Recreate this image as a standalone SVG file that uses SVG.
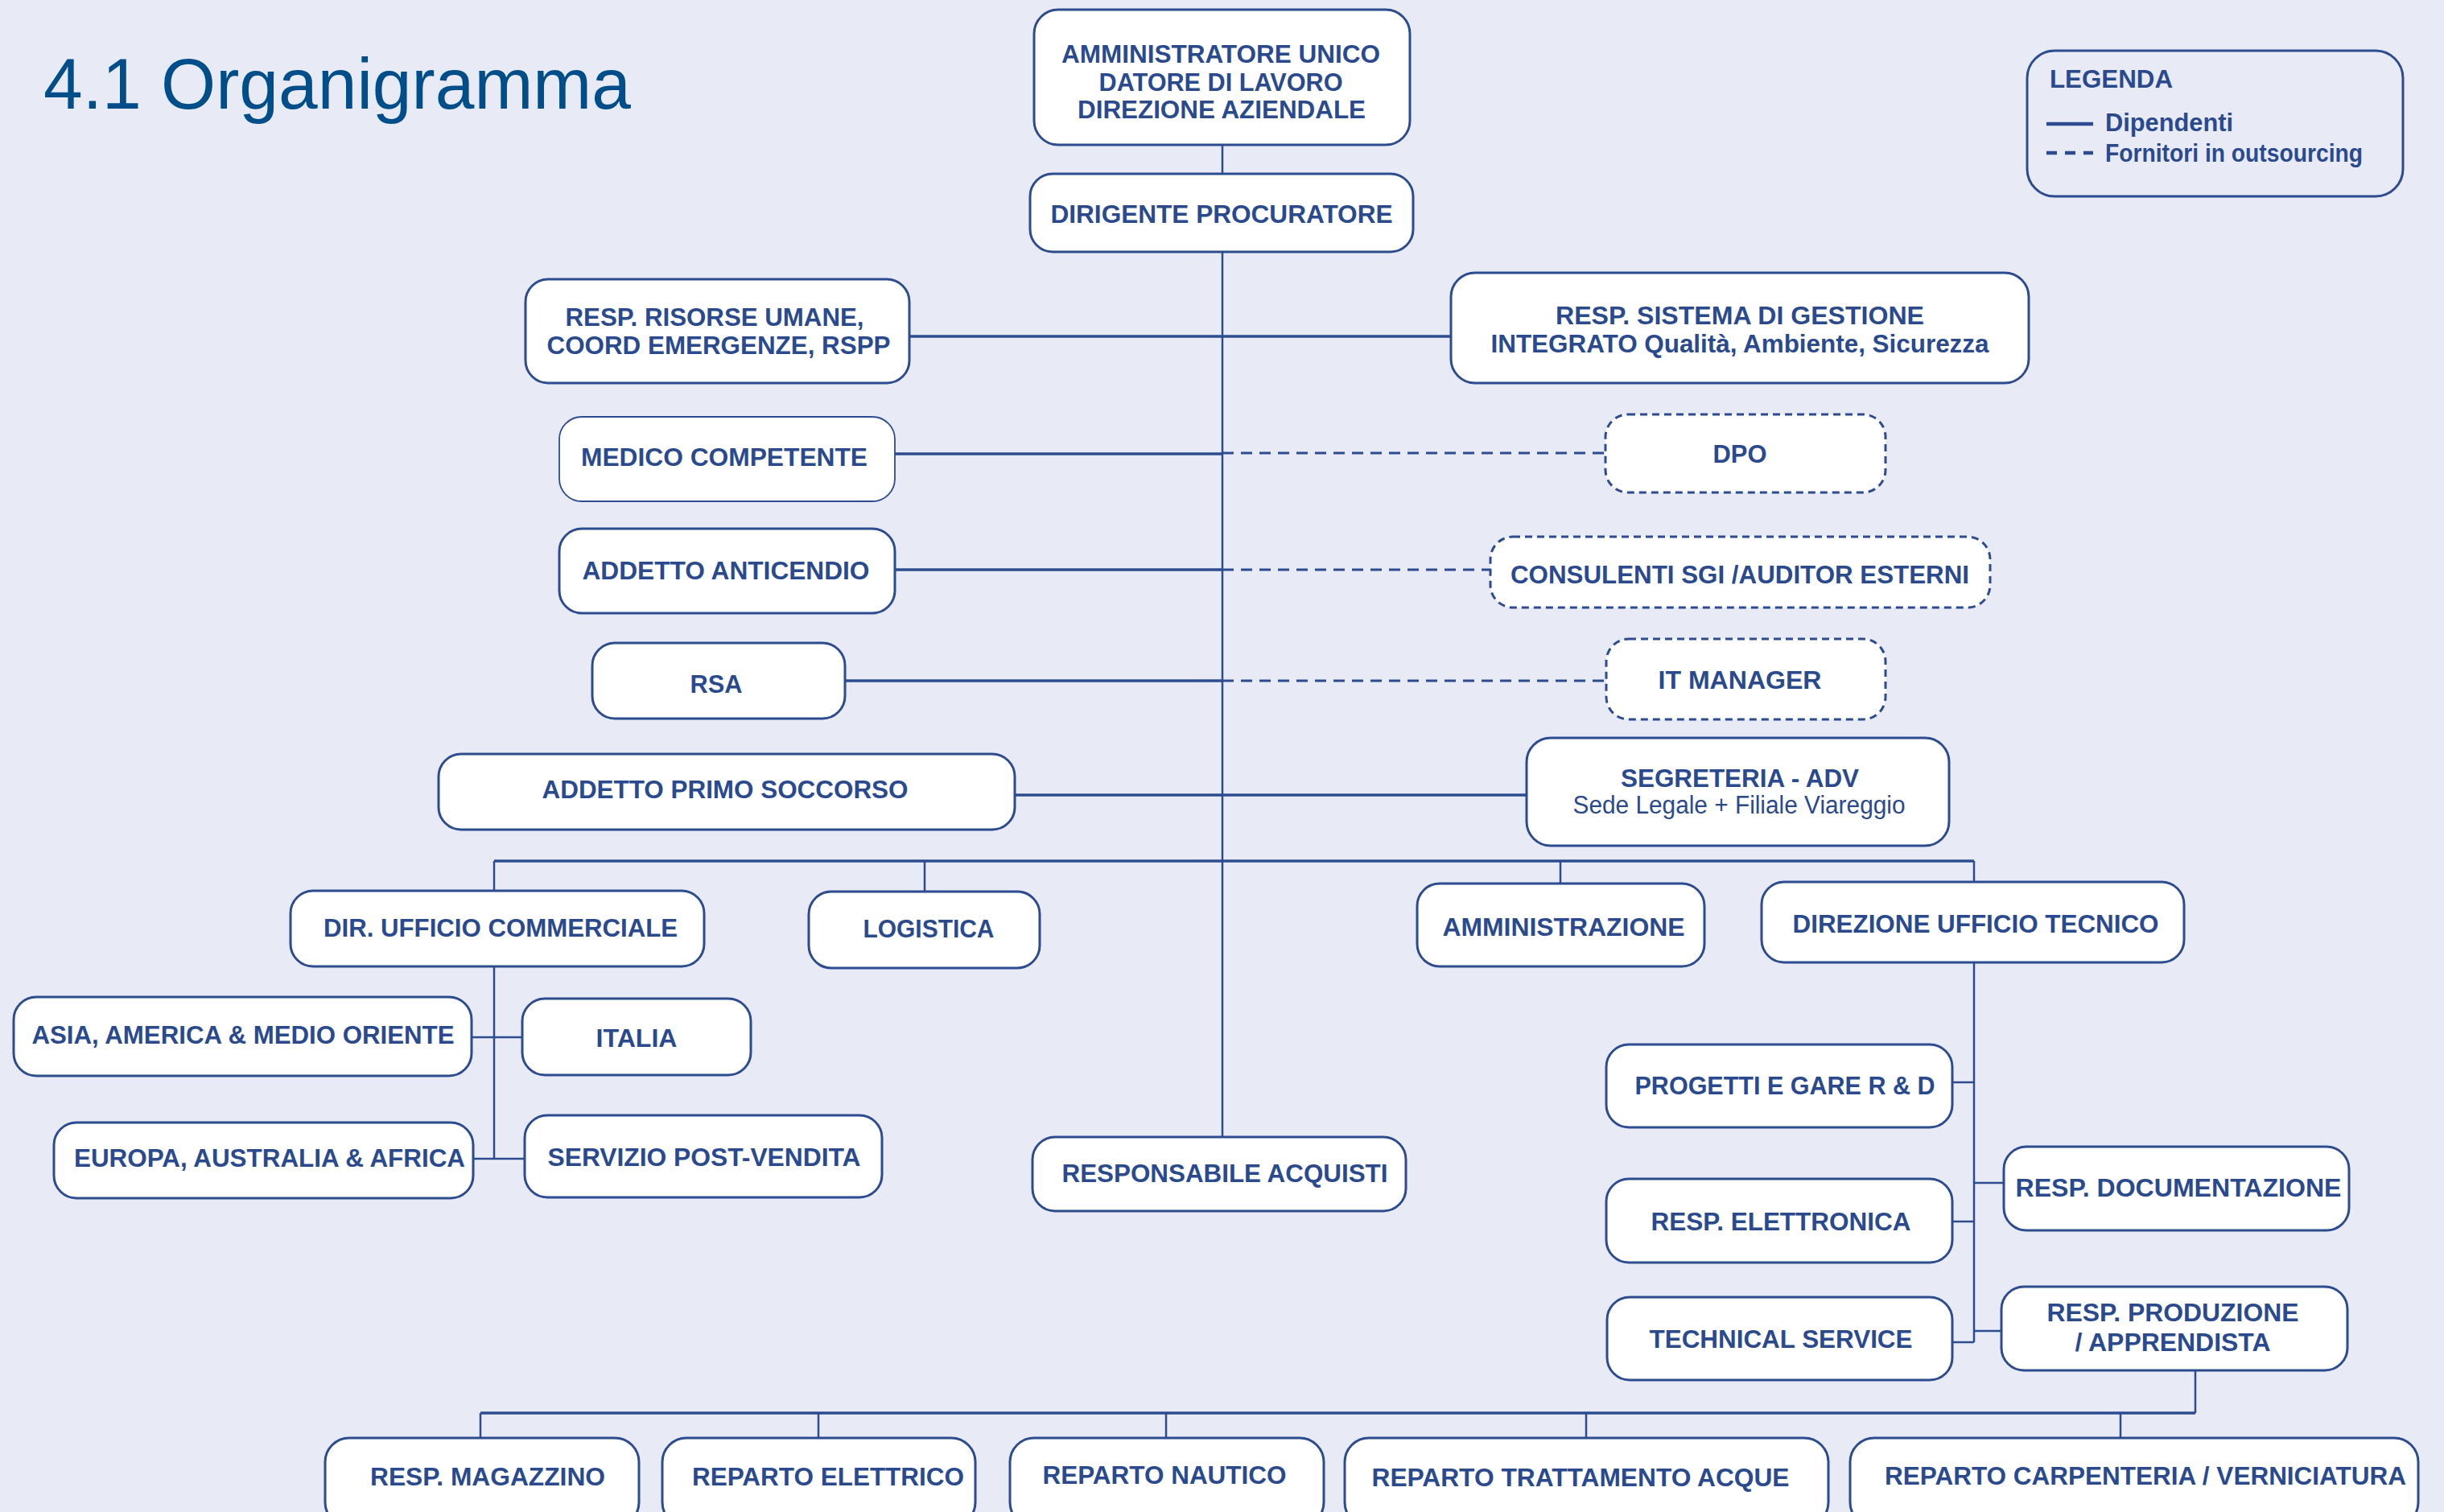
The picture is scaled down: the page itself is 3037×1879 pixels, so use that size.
<svg xmlns="http://www.w3.org/2000/svg" width="3037" height="1879" viewBox="0 0 3037 1879">
<style>
.bg{fill:#E8EBF6}
.n{fill:#FFFFFF;stroke:#2D4C8F;stroke-width:3}
.thin{stroke-width:1.8}
.d{fill:#FFFFFF;stroke:#2D4C8F;stroke-width:3;stroke-dasharray:9 6}
.t{font-family:"Liberation Sans Narrow","Liberation Sans",Arial,sans-serif;font-weight:bold;font-size:31px;fill:#2A4A8D;text-anchor:middle}
.r{font-weight:normal}
.l{text-anchor:start}
.c{stroke:#2D4C8F;stroke-width:2.5;fill:none}
.h{stroke-width:3.5}
.cd{stroke:#2D4C8F;stroke-width:3;fill:none;stroke-dasharray:14 9}
.title{font-family:"Liberation Sans Narrow","Liberation Sans",Arial,sans-serif;font-size:89px;fill:#004E89}
</style>
<rect class="bg" x="0" y="0" width="3037" height="1879"/>
<text class="title" x="54" y="135" textLength="730" lengthAdjust="spacingAndGlyphs">4.1 Organigramma</text>

<g id="connectors">
<path class="c" d="M1519 180 V1413"/>
<path class="c h" d="M1130 418 H1803"/>
<path class="c h" d="M1112 564 H1519"/>
<path class="cd" d="M1519 563 H1995"/>
<path class="c h" d="M1112 708 H1519"/>
<path class="cd" d="M1519 708 H1852"/>
<path class="c h" d="M1050 846 H1519"/>
<path class="cd" d="M1519 846 H1996"/>
<path class="c h" d="M1261 988 H1897"/>
<path class="c h" d="M614 1070 H2453"/>
<path class="c" d="M614 1070 V1107 M1149 1070 V1108 M1939 1070 V1098 M2453 1070 V1096"/>
<path class="c" d="M614 1201 V1440 M586 1289 H649 M588 1440 H652"/>
<path class="c" d="M2453 1196 V1668 M2426 1345 H2453 M2453 1470 H2490 M2426 1518 H2453 M2453 1654 H2487 M2426 1668 H2453"/>
<path class="c" d="M2728 1703 V1756"/>
<path class="c h" d="M597 1756 H2728"/>
<path class="c" d="M597 1756 V1787 M1017 1756 V1787 M1449 1756 V1787 M1971 1756 V1787 M2635 1756 V1787"/>
</g>

<g id="legenda">
<rect x="2519" y="63" width="467" height="181" rx="34" fill="none" stroke="#2D4C8F" stroke-width="3"/>
<text class="t l" x="2547" y="109" textLength="153" lengthAdjust="spacingAndGlyphs">LEGENDA</text>
<path d="M2543 154 H2601" stroke="#2D4C8F" stroke-width="4.5"/>
<text class="t l" x="2616" y="163" textLength="159" lengthAdjust="spacingAndGlyphs">Dipendenti</text>
<path d="M2543 190 H2601" stroke="#2D4C8F" stroke-width="4.5" stroke-dasharray="13 10"/>
<text class="t l" x="2616" y="201" textLength="320" lengthAdjust="spacingAndGlyphs">Fornitori in outsourcing</text>
</g>

<g id="amministratore">
<rect class="n" x="1285" y="12" width="467" height="168" rx="30"/>
<text class="t" x="1517" y="78" textLength="396" lengthAdjust="spacingAndGlyphs">AMMINISTRATORE UNICO</text>
<text class="t" x="1517" y="113" textLength="303" lengthAdjust="spacingAndGlyphs">DATORE DI LAVORO</text>
<text class="t" x="1518" y="147" textLength="358" lengthAdjust="spacingAndGlyphs">DIREZIONE AZIENDALE</text>
</g>
<g id="dirigente">
<rect class="n" x="1280" y="216" width="476" height="97" rx="28"/>
<text class="t" x="1518" y="277" textLength="425" lengthAdjust="spacingAndGlyphs">DIRIGENTE PROCURATORE</text>
</g>
<g id="risorse-umane">
<rect class="n" x="653" y="347" width="477" height="129" rx="28"/>
<text class="t" x="888" y="405" textLength="371" lengthAdjust="spacingAndGlyphs">RESP. RISORSE UMANE,</text>
<text class="t" x="893" y="440" textLength="427" lengthAdjust="spacingAndGlyphs">COORD EMERGENZE, RSPP</text>
</g>
<g id="sistema-gestione">
<rect class="n" x="1803" y="339" width="718" height="137" rx="30"/>
<text class="t" x="2162" y="403" textLength="458" lengthAdjust="spacingAndGlyphs">RESP. SISTEMA DI GESTIONE</text>
<text class="t" x="2162" y="438" textLength="619" lengthAdjust="spacingAndGlyphs">INTEGRATO Qualità, Ambiente, Sicurezza</text>
</g>
<g id="medico">
<rect class="n thin" x="695" y="518" width="417" height="105" rx="28"/>
<text class="t" x="900" y="579" textLength="356" lengthAdjust="spacingAndGlyphs">MEDICO COMPETENTE</text>
</g>
<g id="dpo">
<rect class="d" x="1995" y="515" width="348" height="97" rx="28"/>
<text class="t" x="2162" y="575" textLength="67" lengthAdjust="spacingAndGlyphs">DPO</text>
</g>
<g id="anticendio">
<rect class="n" x="695" y="657" width="417" height="105" rx="28"/>
<text class="t" x="902" y="720" textLength="357" lengthAdjust="spacingAndGlyphs">ADDETTO ANTICENDIO</text>
</g>
<g id="consulenti">
<rect class="d" x="1852" y="667" width="621" height="88" rx="28"/>
<text class="t" x="2162" y="725" textLength="570" lengthAdjust="spacingAndGlyphs">CONSULENTI SGI /AUDITOR ESTERNI</text>
</g>
<g id="rsa">
<rect class="n" x="736" y="799" width="314" height="94" rx="28"/>
<text class="t" x="890" y="861" textLength="65" lengthAdjust="spacingAndGlyphs">RSA</text>
</g>
<g id="it-manager">
<rect class="d" x="1996" y="794" width="347" height="100" rx="28"/>
<text class="t" x="2162" y="856" textLength="203" lengthAdjust="spacingAndGlyphs">IT MANAGER</text>
</g>
<g id="primo-soccorso">
<rect class="n" x="545" y="937" width="716" height="94" rx="28"/>
<text class="t" x="901" y="992" textLength="455" lengthAdjust="spacingAndGlyphs">ADDETTO PRIMO SOCCORSO</text>
</g>
<g id="segreteria">
<rect class="n" x="1897" y="917" width="525" height="134" rx="30"/>
<text class="t" x="2162" y="978" textLength="296" lengthAdjust="spacingAndGlyphs">SEGRETERIA - ADV</text>
<text class="t r" x="2161" y="1011" textLength="413" lengthAdjust="spacingAndGlyphs">Sede Legale + Filiale Viareggio</text>
</g>
<g id="commerciale">
<rect class="n" x="361" y="1107" width="514" height="94" rx="28"/>
<text class="t" x="622" y="1164" textLength="440" lengthAdjust="spacingAndGlyphs">DIR. UFFICIO COMMERCIALE</text>
</g>
<g id="logistica">
<rect class="n" x="1005" y="1108" width="287" height="95" rx="28"/>
<text class="t" x="1154" y="1165" textLength="163" lengthAdjust="spacingAndGlyphs">LOGISTICA</text>
</g>
<g id="amministrazione">
<rect class="n" x="1761" y="1098" width="357" height="103" rx="28"/>
<text class="t" x="1943" y="1163" textLength="301" lengthAdjust="spacingAndGlyphs">AMMINISTRAZIONE</text>
</g>
<g id="ufficio-tecnico">
<rect class="n" x="2189" y="1096" width="525" height="100" rx="28"/>
<text class="t" x="2455" y="1159" textLength="455" lengthAdjust="spacingAndGlyphs">DIREZIONE UFFICIO TECNICO</text>
</g>
<g id="asia">
<rect class="n" x="17" y="1239" width="569" height="98" rx="28"/>
<text class="t" x="302" y="1297" textLength="525" lengthAdjust="spacingAndGlyphs">ASIA, AMERICA &amp; MEDIO ORIENTE</text>
</g>
<g id="italia">
<rect class="n" x="649" y="1241" width="284" height="95" rx="28"/>
<text class="t" x="791" y="1301" textLength="101" lengthAdjust="spacingAndGlyphs">ITALIA</text>
</g>
<g id="europa">
<rect class="n" x="67" y="1395" width="521" height="94" rx="28"/>
<text class="t" x="335" y="1450" textLength="486" lengthAdjust="spacingAndGlyphs">EUROPA, AUSTRALIA &amp; AFRICA</text>
</g>
<g id="post-vendita">
<rect class="n" x="652" y="1386" width="444" height="102" rx="28"/>
<text class="t" x="875" y="1449" textLength="389" lengthAdjust="spacingAndGlyphs">SERVIZIO POST-VENDITA</text>
</g>
<g id="acquisti">
<rect class="n" x="1283" y="1413" width="464" height="92" rx="28"/>
<text class="t" x="1522" y="1469" textLength="405" lengthAdjust="spacingAndGlyphs">RESPONSABILE ACQUISTI</text>
</g>
<g id="progetti">
<rect class="n" x="1996" y="1298" width="430" height="103" rx="28"/>
<text class="t" x="2218" y="1360" textLength="373" lengthAdjust="spacingAndGlyphs">PROGETTI E GARE R &amp; D</text>
</g>
<g id="documentazione">
<rect class="n" x="2490" y="1425" width="429" height="104" rx="28"/>
<text class="t" x="2707" y="1487" textLength="405" lengthAdjust="spacingAndGlyphs">RESP. DOCUMENTAZIONE</text>
</g>
<g id="elettronica">
<rect class="n" x="1996" y="1465" width="430" height="104" rx="28"/>
<text class="t" x="2213" y="1529" textLength="323" lengthAdjust="spacingAndGlyphs">RESP. ELETTRONICA</text>
</g>
<g id="technical-service">
<rect class="n" x="1997" y="1612" width="429" height="103" rx="28"/>
<text class="t" x="2213" y="1675" textLength="327" lengthAdjust="spacingAndGlyphs">TECHNICAL SERVICE</text>
</g>
<g id="produzione">
<rect class="n" x="2487" y="1599" width="430" height="104" rx="28"/>
<text class="t" x="2700" y="1642" textLength="313" lengthAdjust="spacingAndGlyphs">RESP. PRODUZIONE</text>
<text class="t" x="2700" y="1679" textLength="243" lengthAdjust="spacingAndGlyphs">/ APPRENDISTA</text>
</g>
<g id="magazzino">
<rect class="n" x="404" y="1787" width="390" height="110" rx="30"/>
<text class="t" x="606" y="1846" textLength="292" lengthAdjust="spacingAndGlyphs">RESP. MAGAZZINO</text>
</g>
<g id="elettrico">
<rect class="n" x="823" y="1787" width="389" height="110" rx="30"/>
<text class="t" x="1029" y="1846" textLength="338" lengthAdjust="spacingAndGlyphs">REPARTO ELETTRICO</text>
</g>
<g id="nautico">
<rect class="n" x="1255" y="1787" width="390" height="110" rx="30"/>
<text class="t" x="1447" y="1844" textLength="303" lengthAdjust="spacingAndGlyphs">REPARTO NAUTICO</text>
</g>
<g id="trattamento-acque">
<rect class="n" x="1671" y="1787" width="601" height="110" rx="30"/>
<text class="t" x="1964" y="1847" textLength="519" lengthAdjust="spacingAndGlyphs">REPARTO TRATTAMENTO ACQUE</text>
</g>
<g id="carpenteria">
<rect class="n" x="2299" y="1787" width="706" height="110" rx="30"/>
<text class="t" x="2666" y="1845" textLength="648" lengthAdjust="spacingAndGlyphs">REPARTO CARPENTERIA / VERNICIATURA</text>
</g>
</svg>
